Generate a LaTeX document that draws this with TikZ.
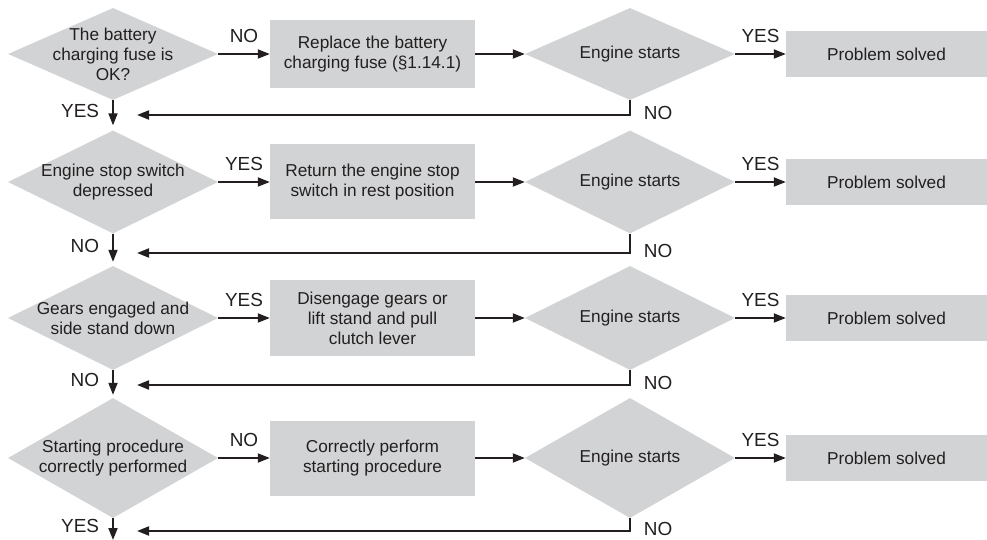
\documentclass[tikz,border=0pt]{standalone}
\usepackage{fontspec}
\setmainfont{Liberation Sans}
\usepackage{xcolor}
\usepackage{tikz}
\usetikzlibrary{positioning,arrows.meta,shapes.geometric}
\definecolor{ink}{RGB}{35,31,32}
\definecolor{panel}{RGB}{209,211,212}

\begin{document}
\begin{tikzpicture}[x=1bp,y=1bp,
  every node/.style={text=ink},
  qtext/.style={align=center,inner sep=0pt,font=\fontsize{17.3}{20}\selectfont},
  decision/.style={diamond,aspect=2,fill=panel,minimum width=210bp,minimum height=#1,inner sep=0pt,font=\fontsize{17.3}{20}\selectfont},
  action/.style={rectangle,fill=panel,minimum width=205bp,minimum height=#1,inner sep=0pt,align=center,font=\fontsize{17.3}{20}\selectfont},
  solved/.style={rectangle,fill=panel,minimum width=201bp,minimum height=46bp,inner sep=0pt,font=\fontsize{17.3}{20}\selectfont},
  flow/.style={draw=ink,line width=1.9bp,-{Triangle[length=12bp,width=9bp]}},
  ans/.style={inner sep=0pt,font=\fontsize{19}{20}\selectfont}]
\useasboundingbox (0,0) rectangle (987,-540);
% row 1
\node[decision=92bp] (q1) at (113,-54) {};
\node[qtext] (q1t) at (q1) {The battery\\charging fuse is\\OK?};
\node[action=68bp] (a1) at (372.5,-54) {Replace the battery\\charging fuse (§1.14.1)};
\node[decision=92bp] (e1) at (630,-54) {Engine starts};
\node[solved] (p1) at (886.5,-54) {Problem solved};
\draw[flow] (q1.east) -- node[ans,above=10bp] {NO} (a1.west);
\draw[flow] (a1.east) -- (e1.west);
\draw[flow] (e1.east) -- node[ans,above=10bp] {YES} (p1.west);
% row 2
\node[decision=103bp] (q2) at (113,-182) {};
\node[qtext] (q2t) at (q2) {Engine stop switch\\depressed};
\node[action=75bp] (a2) at (372.5,-182) {Return the engine stop\\switch in rest position};
\node[decision=103bp] (e2) at (630,-182) {Engine starts};
\node[solved] (p2) at (886.5,-182) {Problem solved};
\draw[flow] (q2.east) -- node[ans,above=10bp] {YES} (a2.west);
\draw[flow] (a2.east) -- (e2.west);
\draw[flow] (e2.east) -- node[ans,above=10bp] {YES} (p2.west);
% row 3
\node[decision=104bp] (q3) at (113,-318) {};
\node[qtext] (q3t) at (q3) {Gears engaged and\\side stand down};
\node[action=75bp] (a3) at (372.5,-318) {Disengage gears or\\lift stand and pull\\clutch lever};
\node[decision=104bp] (e3) at (630,-318) {Engine starts};
\node[solved] (p3) at (886.5,-318) {Problem solved};
\draw[flow] (q3.east) -- node[ans,above=10bp] {YES} (a3.west);
\draw[flow] (a3.east) -- (e3.west);
\draw[flow] (e3.east) -- node[ans,above=10bp] {YES} (p3.west);
% row 4
\node[decision=120bp] (q4) at (113,-458) {};
\node[qtext] (q4t) at (q4) {Starting procedure\\correctly performed};
\node[action=75bp] (a4) at (372.5,-458) {Correctly perform\\starting procedure};
\node[decision=120bp] (e4) at (630,-458) {Engine starts};
\node[solved] (p4) at (886.5,-458) {Problem solved};
\draw[flow] (q4.east) -- node[ans,above=10bp] {NO} (a4.west);
\draw[flow] (a4.east) -- (e4.west);
\draw[flow] (e4.east) -- node[ans,above=10bp] {YES} (p4.west);
% return lines
\coordinate (m1) at (137,-115);
\coordinate (m2) at (137,-253);
\coordinate (m3) at (137,-385);
\coordinate (m4) at (137,-531);
\draw[flow] (e1.south) |- node[ans,pos=0.5,right=13bp,yshift=2bp] {NO} (m1);
\draw[flow] (e2.south) |- node[ans,pos=0.5,right=13bp,yshift=2bp] {NO} (m2);
\draw[flow] (e3.south) |- node[ans,pos=0.5,right=13bp,yshift=2bp] {NO} (m3);
\draw[flow] (e4.south) |- node[ans,pos=0.5,right=13bp,yshift=2bp] {NO} (m4);
% down the left column
\coordinate (out) at (113,-540);
\draw[flow,shorten >=5bp] (q1.south) -- node[ans,pos=0.37,left=13bp] {YES} (q2.north);
\draw[flow,shorten >=4bp] (q2.south) -- node[ans,pos=0.37,left=13bp] {NO} (q3.north);
\draw[flow,shorten >=3bp] (q3.south) -- node[ans,pos=0.37,left=13bp] {NO} (q4.north);
\draw[flow] (q4.south) -- node[ans,pos=0.37,left=13bp] {YES} (out);
\end{tikzpicture}
\end{document}
